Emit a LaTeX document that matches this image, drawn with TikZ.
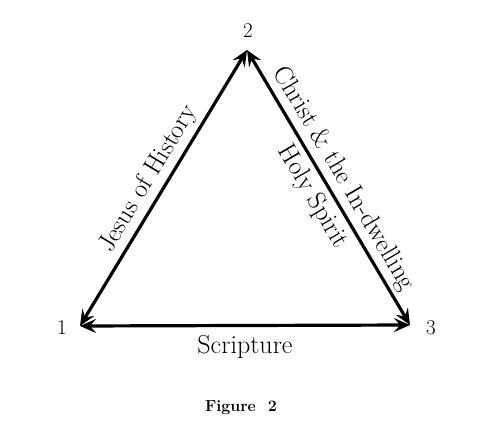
\documentclass[tikz,border=0pt]{standalone}
\usetikzlibrary{arrows.meta}
\begin{document}
\begin{tikzpicture}[
		x=1pt, y=-1pt,
		v/.style = {inner sep=0pt, font=\fontsize{21}{21}\selectfont},
		l/.style = {inner sep=0pt, font=\fontsize{26}{26}\selectfont},
		f/.style = {inner sep=0pt, font=\fontsize{16}{16}\selectfont\bfseries},
		r/.style = {{Stealth[length=16pt, width=14pt, inset=6pt]}-{Stealth[length=16pt, width=14pt, inset=6pt]}, line width=3.2pt}
		]
		\useasboundingbox (0,0) rectangle (496,436);
		
		%Nodes
		\coordinate	(p1)	at	(80, 326);
		\coordinate	(p2)	at	(247, 50);
		\coordinate	(p3)	at	(410, 325);
		
		\node[v]	(n1)	at	(62, 328)	{1};
		\node[v]	(n2)	at	(248, 31)	{2};
		\node[v]	(n3)	at	(431, 328)	{3};
		
		\node[f]	(fig)	at	(241, 408)	{Figure\ \ 2};
		
		%Lines
		\draw[r]	(p1)	--	(p2)	node[l, midway, sloped, above=4pt]	(jesus)	{Jesus\ of\ History};
		\draw[r]	(p2)	--	(p3)	node[l, midway, sloped, above=4pt]	(christ)	{Christ\ \&\ the\ In-dwelling}
										node[l, midway, sloped, below=5pt]	(holy)	{Holy\ Spirit};
		\draw[r]	(p1)	--	(p3)	node[l, midway, below=8pt]	(scrip)	{Scripture};
	\end{tikzpicture}
\end{document}
